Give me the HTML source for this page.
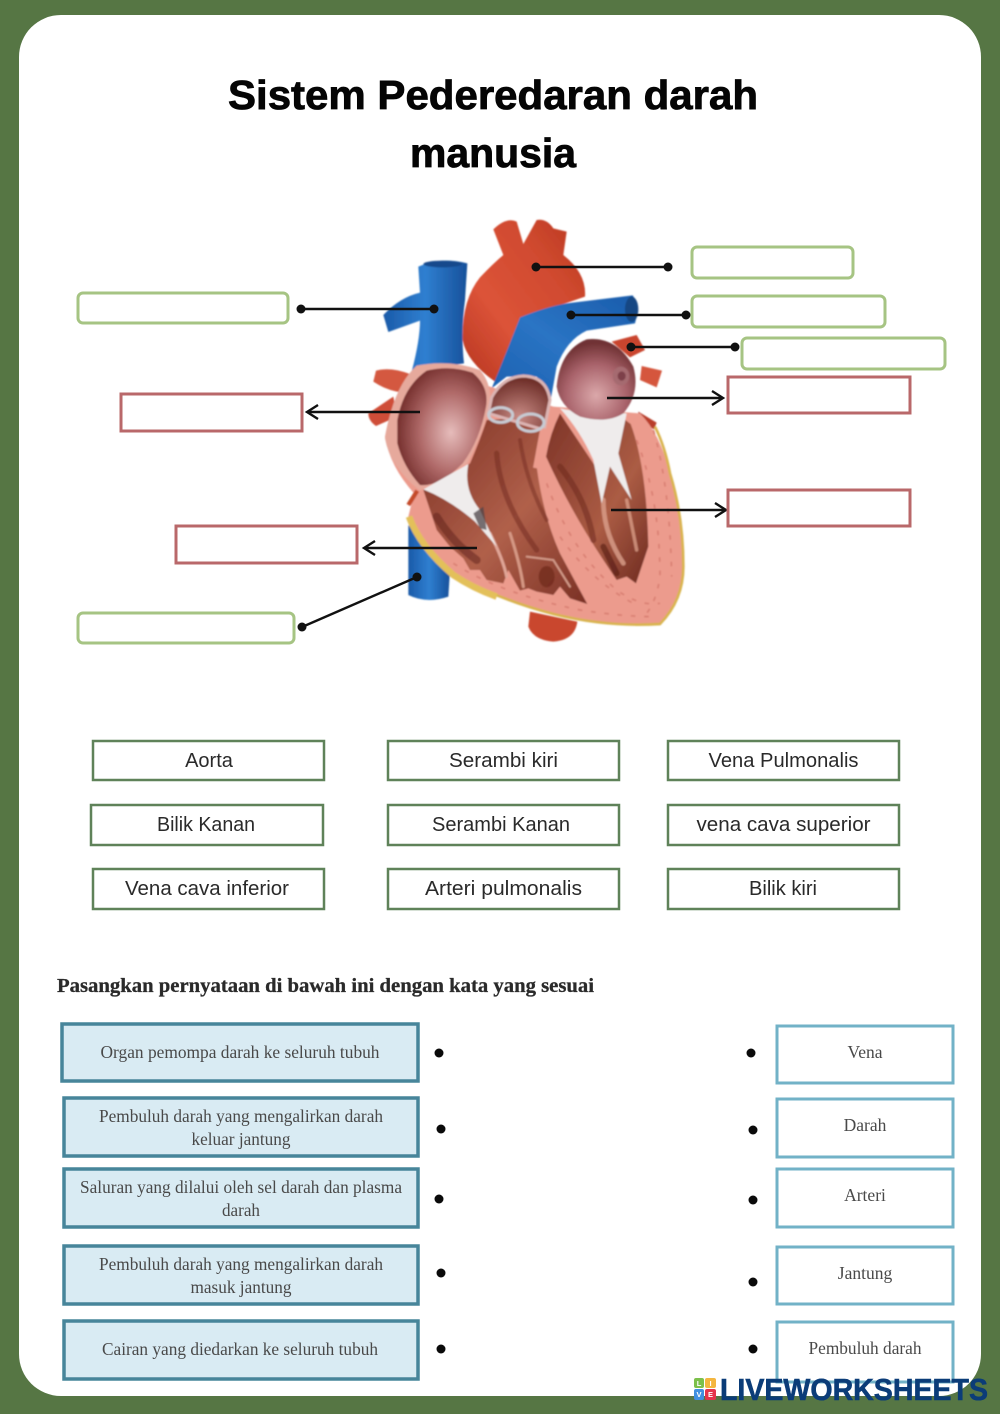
<!DOCTYPE html>
<html><head><meta charset="utf-8"><style>
html,body{margin:0;padding:0;background:#567644}
svg{display:block}
</style></head><body>
<svg xmlns="http://www.w3.org/2000/svg" width="1000" height="1414" viewBox="0 0 1000 1414">
<defs>
<linearGradient id="blue" x1="0" x2="1" y1="0" y2="0"><stop offset="0" stop-color="#1a5aa8"/><stop offset=".5" stop-color="#2f7fd0"/><stop offset="1" stop-color="#17509a"/></linearGradient>
<linearGradient id="blue2" x1="0" x2="1" y1="1" y2="0"><stop offset="0" stop-color="#1c5fae"/><stop offset=".5" stop-color="#2a74c4"/><stop offset="1" stop-color="#1a5cab"/></linearGradient>
<linearGradient id="red" x1="0" x2="1" y1="1" y2="0"><stop offset="0" stop-color="#b5341f"/><stop offset=".35" stop-color="#dc5338"/><stop offset=".7" stop-color="#d04a2f"/><stop offset="1" stop-color="#b83620"/></linearGradient>
<radialGradient id="cav" cx=".6" cy=".55" r=".62"><stop offset="0" stop-color="#e6bcbb"/><stop offset=".55" stop-color="#b06a69"/><stop offset="1" stop-color="#722c2a"/></radialGradient>
<radialGradient id="cav2" cx=".5" cy=".7" r=".65"><stop offset="0" stop-color="#dba8aa"/><stop offset=".6" stop-color="#a8626a"/><stop offset="1" stop-color="#703234"/></radialGradient>
<radialGradient id="cav3" cx=".5" cy=".75" r=".7"><stop offset="0" stop-color="#c88b85"/><stop offset="1" stop-color="#6e2e28"/></radialGradient>
<linearGradient id="vent" x1="0" x2="1" y1="0" y2="1"><stop offset="0" stop-color="#7c3024"/><stop offset=".55" stop-color="#b0604a"/><stop offset="1" stop-color="#7a3024"/></linearGradient>
<linearGradient id="lv" x1="0" x2="1" y1="0" y2="1"><stop offset="0" stop-color="#7d3327"/><stop offset=".6" stop-color="#ab5c44"/><stop offset="1" stop-color="#6e2a20"/></linearGradient>
<filter id="b1"><feGaussianBlur stdDeviation="2.4"/></filter>
<filter id="b2"><feGaussianBlur stdDeviation="8"/></filter>
<filter id="b3"><feGaussianBlur stdDeviation=".35"/></filter>
</defs>

<rect width="1000" height="1414" fill="#567644"/>
<rect x="19" y="15" width="962" height="1381" rx="42" fill="#fff"/>

<g font-family="'Liberation Sans',sans-serif" font-weight="700" font-size="41" text-anchor="middle" fill="#050505" stroke="#050505" stroke-width=".8">
<text x="493" y="109" textLength="530" lengthAdjust="spacingAndGlyphs">Sistem Pederedaran darah</text>
<text x="493" y="167" textLength="166" lengthAdjust="spacingAndGlyphs">manusia</text>
</g>

<!-- heart, drawn in 3x coordinates -->
<g transform="translate(340 200) scale(.33333)" filter="url(#b1)">
<!-- back vessels -->
<path d="M108 512 Q150 500 210 522 L190 578 Q140 572 100 545Z" fill="#d4583f"/>
<path d="M85 640 L160 590 L172 650 L108 678 Q85 662 85 640Z" fill="#cf4e37"/>
<path d="M815 425 L890 405 L915 450 L870 472Z" fill="#c9452e"/>
<path d="M905 498 L966 512 L950 562 L900 540Z" fill="#d5563e"/>
<path d="M895 635 L950 668 L942 688 L895 662Z" fill="#b83c2a"/>
<path d="M570 1235 L712 1265 Q705 1320 640 1325 Q580 1320 565 1280Z" fill="#c9472d"/>
<!-- IVC -->
<path d="M205 975 L330 1110 L325 1190 Q260 1212 205 1185Z" fill="url(#blue)"/>
<!-- SVC -->
<path d="M235 200 Q300 170 382 190 L375 300 Q362 400 372 490 L215 515 Q240 420 240 362 L145 396 L130 345 Q180 292 240 278Z" fill="url(#blue)"/>
<ellipse cx="308" cy="192" rx="58" ry="10" fill="#164a8c"/>
<!-- aorta -->
<path d="M460 88 Q500 50 530 65 L550 132 L590 60 Q620 55 640 85 L680 95 L670 165 Q740 220 735 290 L560 350 L465 545 Q380 485 368 420 Q365 300 420 232 Q460 190 490 165Z" fill="url(#red)"/>
<!-- pulmonary trunk -->
<path d="M455 565 Q490 480 540 352 Q620 320 680 310 L878 286 Q900 315 885 370 L740 392 Q680 420 650 500 L632 600 L590 530 L500 530Z" fill="url(#blue2)"/>
<ellipse cx="875" cy="328" rx="20" ry="38" fill="#134683"/>

<!-- pink body -->
<path d="M230 500 Q160 570 135 710 Q150 800 222 880 L205 950 Q240 1040 340 1125 Q480 1200 640 1242 Q800 1282 960 1272 Q1030 1200 1030 1100 Q1030 950 990 820 Q960 700 900 640 L640 620 L450 560Z" fill="#ec9b8d"/>
<!-- fat edge -->
<path d="M207 950 Q240 1040 340 1125 Q480 1200 640 1242 Q800 1282 960 1272 Q1030 1200 1030 1100 Q1030 950 990 820 Q975 740 945 680" fill="none" stroke="#d9b44f" stroke-width="8"/>
<path d="M207 950 Q240 1040 340 1125 Q400 1165 470 1190" fill="none" stroke="#e3c05a" stroke-width="20"/>
<!-- myocardium texture -->
<g fill="none" stroke="#d97f72" stroke-width="5" stroke-dasharray="14 26">
<path d="M620 850 Q690 1050 830 1170 Q900 1220 960 1210"/>
<path d="M660 1010 Q750 1140 880 1210"/>
<path d="M940 690 Q990 860 995 1130"/>
<path d="M890 720 Q960 900 960 1130 Q950 1200 920 1240"/>
<path d="M340 1090 Q480 1180 720 1230 Q850 1250 940 1250"/>
</g>
<!-- RA wall + cavity -->
<path d="M135 715 Q160 560 230 497 Q330 478 420 510 Q462 560 447 630 Q420 720 382 790 L240 872 Q150 800 135 715Z" fill="#e6a99c"/>
<path d="M172 660 Q190 560 260 512 Q330 495 398 518 Q448 560 438 620 Q420 720 368 790 Q300 860 240 855 Q190 800 172 730Z" fill="url(#cav)"/>
<!-- RV -->
<path d="M250 870 L390 790 Q420 720 440 660 L620 650 L590 800 Q610 950 660 1060 L742 1212 L690 1195 L660 1160 L640 1185 L590 1175 L565 1165 L540 1172 L505 1110 L490 1150 L440 1140 L420 1110 L390 1110 L370 1075 L330 1040 L290 990Z" fill="url(#vent)"/>
<!-- RV streaks -->
<g fill="none" stroke-linecap="round">
<path d="M470 760 Q480 900 590 1050" stroke="#6f281d" stroke-width="16" opacity=".5"/>
<path d="M540 720 Q560 850 620 960" stroke="#6f281d" stroke-width="12" opacity=".45"/>
<path d="M450 1000 Q490 1080 500 1130" stroke="#e0a596" stroke-width="9"/>
<path d="M510 1000 Q540 1090 550 1160" stroke="#d59884" stroke-width="9"/>
<path d="M560 1070 L640 1080 L690 1160" stroke="#d29a88" stroke-width="6"/>
<ellipse cx="620" cy="1130" rx="24" ry="32" fill="#6f281d" opacity=".7"/>
<path d="M290 950 Q340 1030 410 1080" stroke="#5e201a" stroke-width="24" opacity=".5"/>
</g>
<!-- RV chordae -->
<path d="M250 868 L385 792 Q370 870 420 930 L470 1040 L405 965 Q330 900 250 868Z" fill="#efecec"/>
<path d="M400 940 L430 920 L440 990 L420 985Z" fill="#4e4448" opacity=".75"/>
<!-- pulmonary chamber -->
<path d="M455 592 Q490 530 550 528 Q620 530 630 600 L612 690 L445 640Z" fill="url(#cav3)" stroke="#dcb4b2" stroke-width="9"/>
<path d="M612 685 L590 805" stroke="#ec9b8d" stroke-width="22"/>
<g fill="none" stroke="#c7cbd3" stroke-width="9"><ellipse cx="482" cy="645" rx="36" ry="22"/><ellipse cx="572" cy="668" rx="40" ry="26"/></g>
<!-- LV -->
<path d="M618 770 Q630 700 660 640 L740 760 L790 835 L842 650 L872 672 Q920 800 925 1040 L888 1150 L860 1130 L830 1140 L790 1080 Q690 930 618 770Z" fill="url(#lv)"/>
<g fill="none" stroke-linecap="round">
<path d="M660 800 Q740 900 760 1020" stroke="#6a261c" stroke-width="18" opacity=".5"/>
<path d="M790 900 Q790 1000 850 1090" stroke="#dba08c" stroke-width="14" opacity=".8"/>
<path d="M860 900 Q880 1000 890 1050" stroke="#e3a892" stroke-width="10" opacity=".7"/>
<path d="M790 1040 L830 1120" stroke="#551b14" stroke-width="18" opacity=".6"/>
</g>
<!-- LV chordae -->
<path d="M660 625 Q720 640 860 640 L835 760 L875 900 L810 800 L785 910 L760 780 Q720 690 660 625Z" fill="#efecec"/>
<!-- LA -->
<path d="M650 560 Q660 450 740 418 Q830 408 880 500 Q902 580 850 640 Q800 672 720 650 Q660 620 650 560Z" fill="url(#cav2)"/>
<ellipse cx="843" cy="528" rx="25" ry="28" fill="#a56a70"/>
<ellipse cx="845" cy="528" rx="12" ry="14" fill="#7d4048"/>
<!-- misc -->
<path d="M232 872 L205 915" stroke="#c44b2a" stroke-width="13"/>
</g>

<!-- connectors -->
<g stroke="#111" stroke-width="2.4" fill="#111">
<line x1="301" y1="309" x2="434" y2="309"/><circle cx="301" cy="309" r="4.5" stroke="none"/><circle cx="434" cy="309" r="4.5" stroke="none"/>
<line x1="536" y1="267" x2="668" y2="267"/><circle cx="536" cy="267" r="4.5" stroke="none"/><circle cx="668" cy="267" r="4.5" stroke="none"/>
<line x1="571" y1="315" x2="686" y2="315"/><circle cx="571" cy="315" r="4.5" stroke="none"/><circle cx="686" cy="315" r="4.5" stroke="none"/>
<line x1="631" y1="347" x2="735" y2="347"/><circle cx="631" cy="347" r="4.5" stroke="none"/><circle cx="735" cy="347" r="4.5" stroke="none"/>
<line x1="302" y1="627" x2="417" y2="577"/><circle cx="302" cy="627" r="4.5" stroke="none"/><circle cx="417" cy="577" r="4.5" stroke="none"/>
<line x1="308" y1="412" x2="420" y2="412"/><line x1="365" y1="548" x2="477" y2="548"/>
<line x1="607" y1="398" x2="722" y2="398"/><line x1="611" y1="510" x2="725" y2="510"/>
</g>
<g fill="none" stroke="#111" stroke-width="2.4">
<path d="M318 405 L307 412 L318 419"/><path d="M375 541 L364 548 L375 555"/>
<path d="M712 391 L723 398 L712 405"/><path d="M715 503 L726 510 L715 517"/>
</g>

<!-- answer boxes -->
<g fill="#fff" stroke="#a6c483" stroke-width="3">
<rect x="78" y="293" width="210" height="30" rx="5"/>
<rect x="692" y="247" width="161" height="31" rx="5"/>
<rect x="692" y="296" width="193" height="31" rx="5"/>
<rect x="742" y="338" width="203" height="31" rx="5"/>
<rect x="78" y="613" width="216" height="30" rx="5"/>
</g>
<g fill="#fff" stroke="#b9686a" stroke-width="3">
<rect x="121" y="394" width="181" height="37"/>
<rect x="176" y="526" width="181" height="37"/>
<rect x="728" y="377" width="182" height="36"/>
<rect x="728" y="490" width="182" height="36"/>
</g>

<!-- word bank -->
<g fill="#fff" stroke="#5f8259" stroke-width="2.5">
<rect x="93" y="741" width="231" height="39"/><rect x="388" y="741" width="231" height="39"/><rect x="668" y="741" width="231" height="39"/>
<rect x="91" y="805" width="232" height="40"/><rect x="388" y="805" width="231" height="40"/><rect x="668" y="805" width="231" height="40"/>
<rect x="93" y="869" width="231" height="40"/><rect x="388" y="869" width="231" height="40"/><rect x="668" y="869" width="231" height="40"/>
</g>
<g font-family="'Liberation Sans',sans-serif" font-size="20" fill="#2a2a2a" text-anchor="middle">
<text x="209" y="767">Aorta</text><text x="503.500" y="767" textLength="109" lengthAdjust="spacingAndGlyphs">Serambi kiri</text><text x="783.500" y="767" textLength="150" lengthAdjust="spacingAndGlyphs">Vena Pulmonalis</text>
<text x="206" y="831" textLength="98" lengthAdjust="spacingAndGlyphs">Bilik Kanan</text><text x="501" y="831" textLength="138" lengthAdjust="spacingAndGlyphs">Serambi Kanan</text><text x="783.500" y="831" textLength="174" lengthAdjust="spacingAndGlyphs">vena cava superior</text>
<text x="207" y="895" textLength="164" lengthAdjust="spacingAndGlyphs">Vena cava inferior</text><text x="503.500" y="895" textLength="157" lengthAdjust="spacingAndGlyphs">Arteri pulmonalis</text><text x="783" y="895" textLength="68" lengthAdjust="spacingAndGlyphs">Bilik kiri</text>
</g>

<text x="57" y="992" font-family="'Liberation Serif',serif" font-weight="700" font-size="20" fill="#2a2a2a" stroke="#2a2a2a" stroke-width=".3" textLength="537" lengthAdjust="spacingAndGlyphs" filter="url(#b3)">Pasangkan pernyataan di bawah ini dengan kata yang sesuai</text>

<!-- matching -->
<g fill="#d9ebf3" stroke="#47859a" stroke-width="3.500">
<rect x="62" y="1024" width="356" height="57"/>
<rect x="64" y="1098" width="354" height="58"/>
<rect x="64" y="1169" width="354" height="58"/>
<rect x="64" y="1246" width="354" height="58"/>
<rect x="64" y="1321" width="354" height="58"/>
</g>
<g fill="#fff" stroke="#72b2c7" stroke-width="3">
<rect x="777" y="1026" width="176" height="57"/>
<rect x="777" y="1099" width="176" height="58"/>
<rect x="777" y="1169" width="176" height="58"/>
<rect x="777" y="1247" width="176" height="57"/>
<rect x="777" y="1322" width="176" height="60"/>
</g>
<g font-family="'Liberation Serif',serif" font-size="17.500" fill="#4a4a4a" text-anchor="middle" filter="url(#b3)">
<text x="240" y="1058" textLength="279" lengthAdjust="spacingAndGlyphs">Organ pemompa darah ke seluruh tubuh</text>
<text x="241" y="1122" textLength="284" lengthAdjust="spacingAndGlyphs">Pembuluh darah yang mengalirkan darah</text>
<text x="241" y="1145" textLength="99" lengthAdjust="spacingAndGlyphs">keluar jantung</text>
<text x="241" y="1193" textLength="322" lengthAdjust="spacingAndGlyphs">Saluran yang dilalui oleh sel darah dan plasma</text>
<text x="241" y="1216" textLength="38" lengthAdjust="spacingAndGlyphs">darah</text>
<text x="241" y="1270" textLength="284" lengthAdjust="spacingAndGlyphs">Pembuluh darah yang mengalirkan darah</text>
<text x="241" y="1293" textLength="101" lengthAdjust="spacingAndGlyphs">masuk jantung</text>
<text x="240" y="1355" textLength="276" lengthAdjust="spacingAndGlyphs">Cairan yang diedarkan ke seluruh tubuh</text>
<text x="865" y="1058">Vena</text>
<text x="865" y="1131">Darah</text>
<text x="865" y="1201">Arteri</text>
<text x="865" y="1279">Jantung</text>
<text x="865" y="1354" textLength="113" lengthAdjust="spacingAndGlyphs">Pembuluh darah</text>
</g>
<g fill="#0a0a0a">
<circle cx="439" cy="1053" r="4.500"/><circle cx="441" cy="1129" r="4.500"/><circle cx="439" cy="1199" r="4.500"/><circle cx="441" cy="1273" r="4.500"/><circle cx="441" cy="1349" r="4.500"/>
<circle cx="751" cy="1053" r="4.500"/><circle cx="753" cy="1130" r="4.500"/><circle cx="753" cy="1200" r="4.500"/><circle cx="753" cy="1282" r="4.500"/><circle cx="753" cy="1349" r="4.500"/>
</g>

<!-- logo -->
<rect x="694" y="1378" width="10" height="10" rx="2" fill="#7cc04b"/>
<rect x="705" y="1378" width="11" height="10" rx="2" fill="#f4b63f"/>
<rect x="694" y="1389" width="10" height="11" rx="2" fill="#3f8fe0"/>
<rect x="705" y="1389" width="11" height="11" rx="2" fill="#e5344b"/>
<g font-family="'Liberation Sans',sans-serif" font-weight="700" font-size="7.500" fill="#fff" text-anchor="middle">
<text x="699" y="1386">L</text><text x="710.500" y="1386">I</text><text x="699" y="1397">V</text><text x="710.500" y="1397">E</text>
</g>
<text x="720" y="1400" font-family="'Liberation Sans',sans-serif" font-weight="700" font-size="31" fill="#0b3c78" stroke="#0b3c78" stroke-width=".6" textLength="268" lengthAdjust="spacingAndGlyphs">LIVEWORKSHEETS</text>
</svg>
</body></html>
